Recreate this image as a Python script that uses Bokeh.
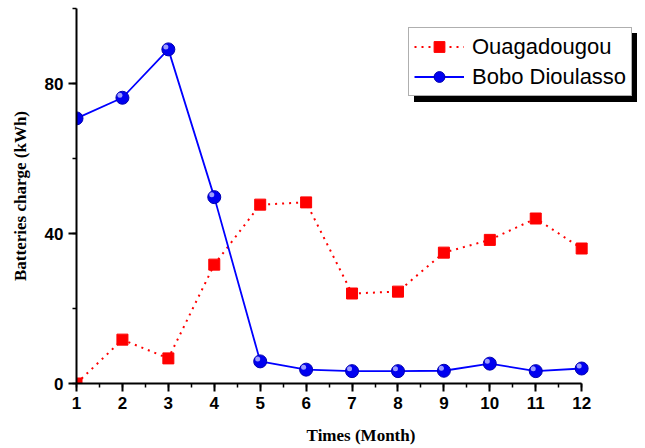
from bokeh.plotting import figure
from bokeh.models import Range1d, SingleIntervalTicker, Legend, LegendItem
from bokeh.embed import file_html
from bokeh.resources import INLINE

months = [1, 2, 3, 4, 5, 6, 7, 8, 9, 10, 11, 12]
ouagadougou = [0.0, 11.7, 6.7, 31.7, 47.7, 48.3, 24.0, 24.5, 34.9, 38.3, 44.0, 36.0]
bobo_dioulasso = [70.7, 76.2, 89.1, 49.7, 5.9, 3.7, 3.3, 3.3, 3.4, 5.3, 3.3, 4.0]
x_title = "Times (Month)"
y_title = "Batteries charge (kWh)"
series_names = ["Ouagadougou", "Bobo Dioulasso"]

X_END = 13.39  # frame extends right of the last month so the legend fits inside it

p = figure(width=645, height=448, x_range=Range1d(1, X_END), y_range=Range1d(0, 100),
           output_backend="svg", toolbar_location=None,
           min_border_left=76, min_border_right=0, min_border_top=8, min_border_bottom=65)
p.outline_line_color = None
p.xgrid.visible = False
p.ygrid.visible = False
p.background_fill_color = "white"
p.border_fill_color = "white"

# highlight offset ranges (shift few pixels up-left for the sphere shine)
p.extra_x_ranges = {"hl": Range1d(1 + 2.5 / 45.9, X_END + 2.5 / 45.9)}
p.extra_y_ranges = {"hl": Range1d(0 - 2.5 / 3.75, 100 - 2.5 / 3.75)}

r_line = p.line(months, ouagadougou, line_color="#ff0000", line_width=2, line_dash="2 5")
r_sq = p.scatter(months, ouagadougou, marker="square", size=11, fill_color="#ff0000",
                 line_color="#ff0000")
b_line = p.line(months, bobo_dioulasso, line_color="#0000ff", line_width=1.8)
b_pt = p.scatter(months, bobo_dioulasso, marker="circle", size=13, fill_color="#0000f0",
                 line_color="#0000b0", line_width=1)
p.scatter(months, bobo_dioulasso, marker="circle", size=5, fill_color="#b8b8ff",
          line_color=None, fill_alpha=0.85, x_range_name="hl", y_range_name="hl")

for ax in (p.xaxis[0], p.yaxis[0]):
    ax.axis_line_width = 2
    ax.major_tick_line_width = 2
    ax.minor_tick_line_width = 1.5
    ax.major_tick_out = 8
    ax.major_tick_in = 0
    ax.minor_tick_out = 4
    ax.minor_tick_in = 0
    ax.major_label_text_font = "Liberation Sans"
    ax.major_label_text_font_style = "bold"
    ax.major_label_text_font_size = "17px"
    ax.major_label_text_color = "black"
    ax.axis_label_text_font = "Liberation Serif"
    ax.axis_label_text_font_style = "bold"
    ax.axis_label_text_font_size = "17px"
    ax.axis_label_text_color = "black"

p.xaxis[0].ticker = SingleIntervalTicker(interval=1, num_minor_ticks=2)
p.xaxis[0].bounds = (1, 12)
p.yaxis[0].ticker = SingleIntervalTicker(interval=40, num_minor_ticks=2)
p.xaxis[0].axis_label = x_title
p.yaxis[0].axis_label = y_title
p.xaxis[0].axis_label_standoff = 14
p.yaxis[0].axis_label_standoff = 12

common = dict(label_text_font="Liberation Sans", label_text_font_size="22px",
              glyph_width=50, glyph_height=27, label_height=27, label_standoff=8,
              padding=5, spacing=3, margin=0)

# shadow legend: blank labels with a fixed label width, drawn under the real legend
d1 = p.scatter([], [], marker="square", fill_alpha=0, line_alpha=0)
d2 = p.scatter([], [], marker="circle", fill_alpha=0, line_alpha=0)
shadow = Legend(items=[LegendItem(label=" ", renderers=[d1]),
                       LegendItem(label=" ", renderers=[d2])],
                location=(338, 281), background_fill_color="black", background_fill_alpha=1,
                border_line_color="black", label_text_color="black", label_width=153,
                **common)
legend = Legend(items=[LegendItem(label=series_names[0], renderers=[r_line, r_sq]),
                       LegendItem(label=series_names[1], renderers=[b_line, b_pt])],
                location=(332, 287), background_fill_color="white", background_fill_alpha=1,
                border_line_color="#606060", border_line_width=1, label_text_color="black",
                **common)
p.add_layout(shadow, "center")
p.add_layout(legend, "center")

open("out.html", "w").write(file_html(p, INLINE))
